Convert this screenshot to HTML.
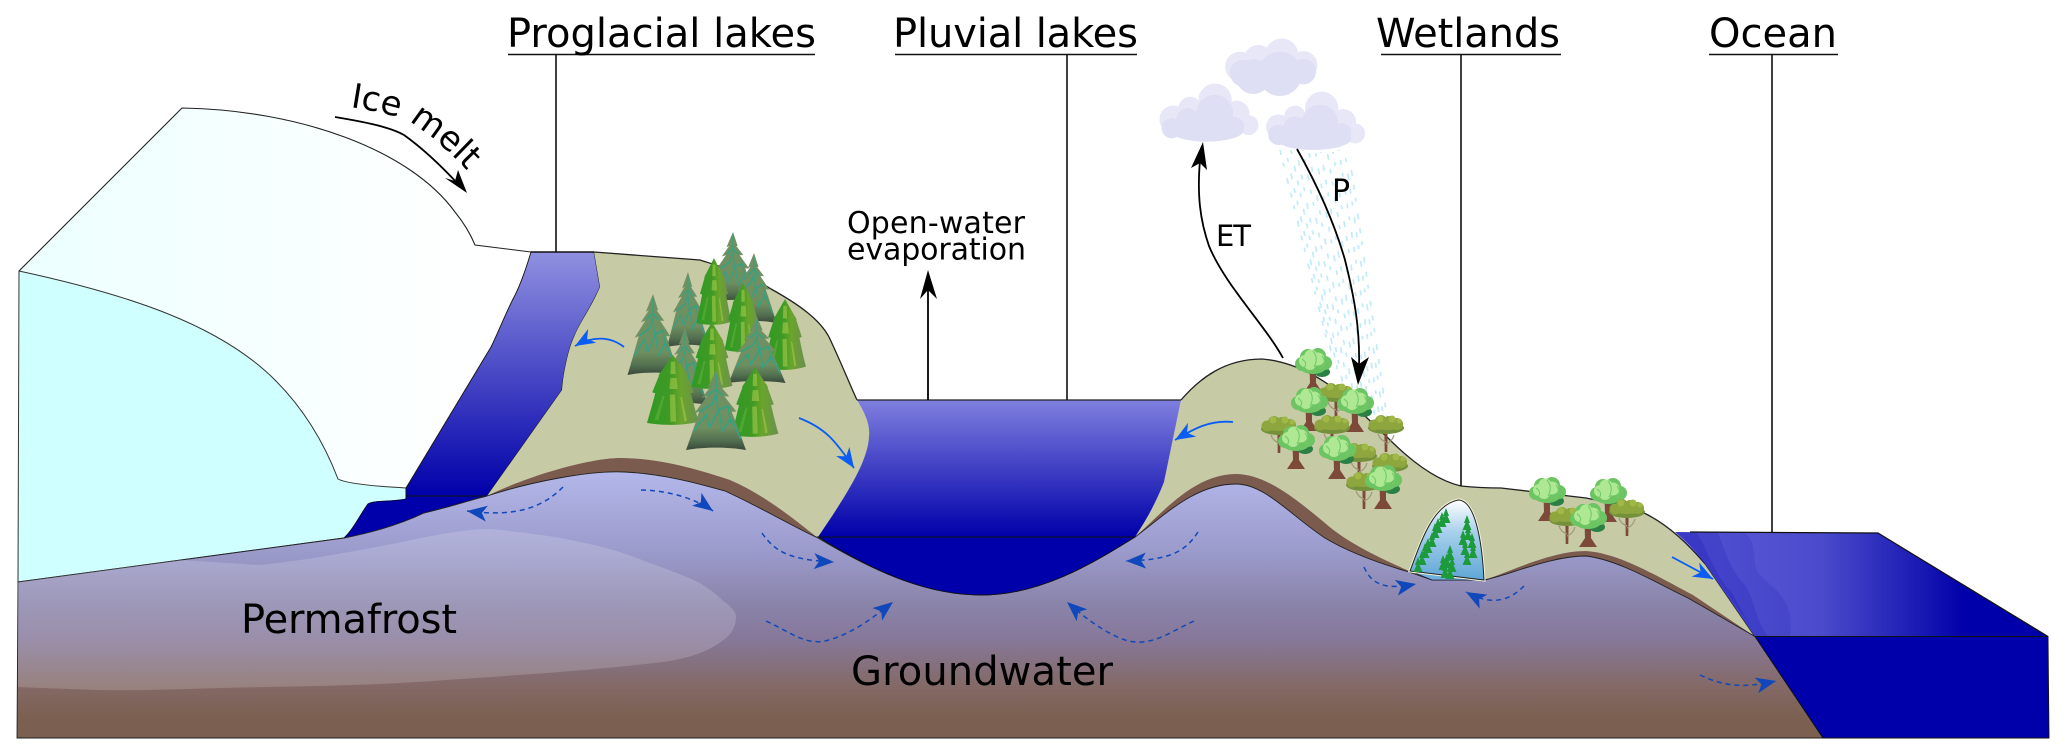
<!DOCTYPE html>
<html><head><meta charset="utf-8"><title>Lakes and wetlands diagram</title>
<style>html,body{margin:0;padding:0;background:#fff}svg{display:block}text{font-family:"DejaVu Sans","Liberation Sans",sans-serif;fill:#000}</style></head>
<body>
<svg width="2067" height="756" viewBox="0 0 2067 756" xmlns="http://www.w3.org/2000/svg">
<defs>
<linearGradient id="grd" gradientUnits="userSpaceOnUse" x1="0" y1="470" x2="0" y2="738">
<stop offset="0" stop-color="#b4b8ea"/><stop offset=".3" stop-color="#9b9bcc"/><stop offset=".5" stop-color="#8a84aa"/><stop offset=".63" stop-color="#86789a"/><stop offset=".8" stop-color="#846a68"/><stop offset=".93" stop-color="#7b5f50"/><stop offset="1" stop-color="#7b5f50"/></linearGradient>
<linearGradient id="lk1" gradientUnits="userSpaceOnUse" x1="0" y1="252" x2="0" y2="496"><stop offset="0" stop-color="#9090e0"/><stop offset="1" stop-color="#0000aa"/></linearGradient>
<linearGradient id="lk2" gradientUnits="userSpaceOnUse" x1="0" y1="400" x2="0" y2="537"><stop offset="0" stop-color="#7f7fdf"/><stop offset="1" stop-color="#0000aa"/></linearGradient>
<linearGradient id="oc" gradientUnits="userSpaceOnUse" x1="1680" y1="0" x2="1965" y2="0"><stop offset="0" stop-color="#5c5cd8"/><stop offset=".5" stop-color="#4a4acc"/><stop offset=".8" stop-color="#2020b6"/><stop offset="1" stop-color="#0000aa"/></linearGradient>
<linearGradient id="ice" gradientUnits="userSpaceOnUse" x1="60" y1="0" x2="480" y2="0"><stop offset="0" stop-color="#eeffff"/><stop offset="1" stop-color="#ffffff"/></linearGradient>
<linearGradient id="arch" x1="0" y1="0" x2="0" y2="1"><stop offset="0" stop-color="#fff"/><stop offset=".4" stop-color="#a8d0ec"/><stop offset="1" stop-color="#5fa7d6"/></linearGradient>
<linearGradient id="ca" gradientUnits="userSpaceOnUse" x1="0" y1="0" x2="0" y2="100"><stop offset="0" stop-color="#6f9163"/><stop offset=".72" stop-color="#6f8f60"/><stop offset=".88" stop-color="#527050"/><stop offset="1" stop-color="#38483a"/></linearGradient>
<linearGradient id="cb" gradientUnits="userSpaceOnUse" x1="-50" y1="0" x2="50" y2="0"><stop offset="0" stop-color="#2f9a22"/><stop offset=".45" stop-color="#3f9a25"/><stop offset=".65" stop-color="#6aa52b"/><stop offset="1" stop-color="#6a8f50"/></linearGradient>
<pattern id="st" width="3" height="3" patternUnits="userSpaceOnUse"><rect width="3" height="3" fill="#eeeefa"/><rect width="1.5" height="1.5" fill="#d2d2ee"/></pattern>
<marker id="mb" markerUnits="userSpaceOnUse" markerWidth="26" markerHeight="20" refX="20" refY="8" orient="auto"><path d="M20,8 L0,0 L6,8 L0,16Z" fill="#0a5cf5"/></marker>
<marker id="md" markerUnits="userSpaceOnUse" markerWidth="26" markerHeight="20" refX="20" refY="8" orient="auto"><path d="M20,8 L0,0 L5,8 L0,16Z" fill="#1048bb"/></marker>
<g id="a">
<path d="M0,0 L10,20 L7,20 L22,33 L14,33 L34,52 L26,52 C36,70 44,88 50,100 C20,96 -20,96 -50,100 C-44,88 -36,70 -28,52 L-36,54 L-15,33 L-24,35 L-8,20 L-14,22Z" fill="url(#ca)"/>
<path d="M0,5 L0,25 M-13,31 L0,24 L11,32 M-27,52 L-6,42 L0,30 L3,50 L20,45 L26,70 M-37,76 L-16,56 L-11,72 L5,50 L10,76 L25,60 L41,86" fill="none" stroke="#35a184" stroke-width="2.4"/>
</g>
<g id="b">
<path d="M-50,100 C-40,74 -36,62 -32,50 L32,50 C38,66 44,86 50,98 C20,104 -20,104 -50,100Z" fill="url(#cb)"/>
<path d="M-40,55 L-24,25 L24,25 L40,55 C14,61 -14,61 -40,55Z" fill="url(#cb)"/>
<path d="M-28,30 L0,0 L28,30 C8,35 -8,35 -28,30Z" fill="url(#cb)"/>
<path d="M-4,10 L4,10 L5,28 L-5,28Z M-5,34 L7,34 L9,50 L-7,50Z M-6,58 L4,58 L6,98 L-5,98Z M14,62 L17,62 L27,96 L22,98Z" fill="#a2c94a" opacity=".6"/>
<path d="M-20,60 L-16,60 L-28,96 L-36,96Z" fill="#5fb03a" opacity=".6"/>
</g>
<g id="g">
<path d="M-3.5,-24 L3,-24 L3,-9 L9,0 L-9,0 L-3,-9Z" fill="#7d4a3a"/>
<ellipse cx="9" cy="-20" rx="8" ry="5" fill="#2c7f45"/>
<g fill="#6cc462"><circle cx="-11" cy="-28" r="7"/><circle cx="-5" cy="-35" r="8"/><circle cx="5" cy="-36" r="8"/><circle cx="12" cy="-29" r="7"/><ellipse cx="0" cy="-26" rx="14" ry="8"/></g>
<g fill="#aee892"><circle cx="-8" cy="-31" r="6"/><circle cx="-2" cy="-36" r="6.5"/><circle cx="5" cy="-33" r="6.5"/><circle cx="-3" cy="-28" r="6"/></g>
<path d="M-11,-33 Q-5,-29 -9,-24 M0,-41 Q6,-34 1,-25 M9,-36 Q14,-30 9,-24" fill="none" stroke="#74cb6b" stroke-width="1.1"/>
</g>
<g id="o">
<path d="M-1.3,0 L1.3,0 L1.6,-22 L-1.6,-22Z" fill="#7d4a3a"/>
<path d="M0,-10 Q-6,-12 -8,-18 M0,-8 Q6,-10 8,-17" stroke="#a0987a" stroke-width="1.2" fill="none"/>
<ellipse cx="0" cy="-24" rx="18" ry="6" fill="#74903a"/>
<g fill="#8da63d"><circle cx="-12" cy="-27" r="5.5"/><circle cx="-5" cy="-31" r="6"/><circle cx="3" cy="-30" r="6"/><circle cx="11" cy="-28" r="6"/><ellipse cx="0" cy="-27" rx="17" ry="5"/></g>
<g fill="#a0b848"><circle cx="-6" cy="-33" r="3.5"/><circle cx="6" cy="-33" r="3.5"/><circle cx="13" cy="-31" r="2.5"/></g>
</g>
<path id="s" d="M0,0 L3,8 L1.5,8 L4.5,15 L-4.5,15 L-1.5,8 L-3,8Z" fill="#1d9a3c"/>
</defs>

<!-- rain -->
<g fill="none" stroke="#c2ebfa" stroke-width="1.7" stroke-dasharray="5 8 4 12 6 9">
<path d="M1280,150 L1328,345" stroke-dashoffset="0"/>
<path d="M1286,152 L1333,360" stroke-dashoffset="7"/>
<path d="M1291,150 L1338,372" stroke-dashoffset="13"/>
<path d="M1297,153 L1343,385" stroke-dashoffset="22"/>
<path d="M1303,150 L1349,392" stroke-dashoffset="4"/>
<path d="M1309,153 L1354,397" stroke-dashoffset="30"/>
<path d="M1315,150 L1360,402" stroke-dashoffset="10"/>
<path d="M1321,152 L1365,408" stroke-dashoffset="16"/>
<path d="M1327,150 L1370,412" stroke-dashoffset="25"/>
<path d="M1333,152 L1375,417" stroke-dashoffset="3"/>
<path d="M1339,150 L1380,420" stroke-dashoffset="34"/>
<path d="M1345,154 L1384,422" stroke-dashoffset="9"/>
<path d="M1350,160 L1388,425" stroke-dashoffset="19"/>
</g>

<!-- glacier top -->
<path d="M19,271 L182,108 C300,110 410,150 455,212 Q468,228 475,245 L531,252 C525,272 518,290 513,299 L406,488 L406,582 L19,582Z" fill="url(#ice)"/>
<path d="M19,271 L182,108 C300,110 410,150 455,212 Q468,228 475,245 L531,252" fill="none" stroke="#222" stroke-width="1.1"/>
<!-- ice face -->
<path d="M19,271 C130,295 220,325 275,380 C305,410 325,445 338,479 C345,483 370,486 406,488 L406,499 C395,502 375,500 368,504 C360,515 353,530 344,538 L18,582Z" fill="#d0ffff" stroke="#333" stroke-width="1"/>

<!-- proglacial lake -->
<path d="M406,496 L487,496 L424,513 C405,522 380,531 344,538 C353,530 360,515 368,504 C375,500 395,502 406,499Z" fill="#0000aa" stroke="#000040" stroke-width=".8"/>
<path d="M531,252 L594,252 L600,287 C590,310 580,322 574,337 C568,350 563,375 562,390 L487,496 L406,496 L406,488 L491,347 C497,335 505,315 513,299 C518,290 525,272 531,252Z" fill="url(#lk1)" stroke="#111" stroke-width=".9"/>
<path d="M531,252 L594,252" stroke="#111" stroke-width="1.4"/>

<!-- green land left -->
<path d="M594,252 L700,260 C725,268 750,275 771,289 C800,305 820,320 829,337 C840,360 850,385 857,400 C866,415 870,425 869,436 C868,460 850,490 818,538 C795,520 765,495 730,480 C700,470 660,458 620,458 C590,458 530,475 487,496 L562,390 C563,375 568,350 574,337 C580,322 590,310 600,287Z" fill="#c6caa5"/>
<path d="M594,252 L700,260 C725,268 750,275 771,289 C800,305 820,320 829,337 C840,360 850,385 857,400" fill="none" stroke="#222" stroke-width="1.3"/>

<!-- green land right -->
<path d="M1181,400 C1200,378 1225,359 1262,359 C1300,362 1330,385 1343,395 L1389,439 C1410,460 1435,480 1461,486 C1480,488 1490,488 1501,488 L1586,498 C1610,503 1630,507 1644,513 C1665,523 1685,540 1706,565 L1755,636.5 L1693,595 C1660,578 1620,553 1586,551 C1550,551 1510,572 1484,580 L1432,580 L1409,571 C1385,560 1350,545 1325,523 C1295,498 1265,474 1236,474 C1195,474 1165,510 1135,537 C1145,522 1155,505 1164,482Z" fill="#c6caa5"/>
<path d="M1181,400 C1200,378 1225,359 1262,359 C1300,362 1330,385 1343,395 L1389,439 C1410,460 1435,480 1461,486 C1480,488 1490,488 1501,488 L1586,498 C1610,503 1630,507 1644,513 C1665,523 1685,540 1706,565 L1755,636.5" fill="none" stroke="#222" stroke-width="1.3"/>

<!-- soil -->
<path d="M487,496 C530,475 590,458 620,458 C660,458 700,470 730,480 C765,495 795,520 818,538 L818,610 L487,610Z" fill="#7b5b4d"/>
<path d="M1135,537 C1165,510 1195,474 1236,474 C1265,474 1295,498 1325,523 C1350,545 1385,560 1409,571 L1409,620 L1135,620Z" fill="#7b5b4d"/>
<path d="M1484,580 C1510,572 1550,551 1586,551 C1620,553 1660,578 1693,595 L1755,636.5 L1755,660 L1484,660Z" fill="#7b5b4d"/>

<!-- ground -->
<path d="M18,582 L344,538 C380,531 405,522 424,513 C450,507 470,500 487,496 C530,482 590,470 625,472 C665,474 700,484 725,491 C760,507 790,525 818,538 C880,575 930,595 981,595 C1040,595 1090,565 1135,537 C1165,515 1195,484 1236,484 C1265,484 1290,515 1325,538 C1350,553 1385,565 1409,572 L1432,580 L1484,580 C1510,575 1550,556 1586,556 C1620,560 1660,585 1688,598 L1755,636.5 L1823,738 L17,738Z" fill="url(#grd)" stroke="#222" stroke-width=".9"/>

<!-- permafrost -->
<path d="M18,582 L180,560 L259,565 C310,560 360,550 402,542 C435,535 465,529 491,529 C520,532 555,536 580,542 C610,548 630,555 647,562 C670,570 690,578 700,583 C710,590 718,595 722,600 C732,607 736,612 736,617 C736,628 730,636 722,641 C715,646 708,650 700,653 C690,657 680,659 670,661 C600,670 520,675 446,680 C380,685 320,686 268,687 C200,688 150,691 98,690 C70,689 40,688 18,687Z" fill="#fff" fill-opacity=".17"/>

<!-- pluvial lake -->
<path d="M857,400 L1181,400 L1164,482 C1155,505 1145,522 1135,537 L818,537 C850,490 868,460 869,436 C870,425 866,415 857,400Z" fill="url(#lk2)"/>
<path d="M857,400 L1181,400" stroke="#222" stroke-width="1.2"/>
<path d="M818,537 L1135,537 C1090,565 1040,595 981,595 C930,595 880,575 818,537Z" fill="#0000aa" stroke="#111" stroke-width=".9"/>

<!-- wetland -->
<path d="M1410,571 L1432,580 L1484,580Z" fill="#6fb0dc" stroke="#223" stroke-width=".7"/>
<path d="M1410,571 C1420,545 1432,505 1458,500 C1475,500 1482,540 1484,580 L1410,571Z" fill="url(#arch)" stroke="#f4f4d8" stroke-width="3"/>
<path d="M1410,571 C1420,545 1432,505 1458,500 C1475,500 1482,540 1484,580 L1410,571Z" fill="url(#arch)" stroke="#222" stroke-width="1"/>
<g>
<use href="#s" x="1446" y="508"/><use href="#s" x="1442" y="512"/><use href="#s" x="1438" y="518"/><use href="#s" x="1435" y="523"/>
<use href="#s" x="1432" y="532"/><use href="#s" x="1428" y="538"/><use href="#s" x="1425" y="543"/><use href="#s" x="1422" y="550"/><use href="#s" x="1418" y="557"/>
<use href="#s" x="1467" y="515"/><use href="#s" x="1468" y="525"/><use href="#s" x="1463" y="530"/><use href="#s" x="1472" y="533"/><use href="#s" x="1465" y="540"/><use href="#s" x="1473" y="543"/><use href="#s" x="1467" y="550"/>
<use href="#s" x="1450" y="545"/><use href="#s" x="1447" y="553"/><use href="#s" x="1443" y="555"/><use href="#s" x="1452" y="557"/><use href="#s" x="1445" y="563"/><use href="#s" x="1450" y="564"/>
</g>

<!-- ocean -->
<path d="M1675,532 L1878,533 L2048,636.5 L1755,636.5 L1706,565 C1695,550 1685,540 1675,532Z" fill="url(#oc)"/>
<path d="M1745,533 C1760,545 1750,565 1760,575 C1775,590 1795,600 1790,636 L1755,636.5 L1706,565 L1675,532Z" fill="#0000aa" opacity=".1"/>
<path d="M1718,533 C1725,550 1730,570 1745,585 C1755,600 1755,620 1768,636 L1755,636.5 L1706,565 L1675,532Z" fill="#0000aa" opacity=".14"/>
<path d="M1697,533 C1705,545 1715,575 1732,593 L1750,625 L1706,565 L1675,532Z" fill="#0000aa" opacity=".16"/>
<path d="M1690,532 L1878,533 L2048,636.5" fill="none" stroke="#111" stroke-width="1.2"/>
<path d="M1755,636.5 L2048,636.5 L2049,738 L1823,738Z" fill="#0000aa" stroke="#111" stroke-width=".9"/>

<!-- conifers -->
<use href="#a" transform="translate(733,232) scale(.47,.7)"/>
<use href="#a" transform="translate(754,253) scale(.45,.7)"/>
<use href="#a" transform="translate(688,272) scale(.42,.75)"/>
<use href="#b" transform="translate(714,258) scale(.35,.65)"/>
<use href="#a" transform="translate(653,294) scale(.51,.81)"/>
<use href="#b" transform="translate(743,283) scale(.37,.67)"/>
<use href="#b" transform="translate(785,299) scale(.42,.69)"/>
<use href="#a" transform="translate(685,328) scale(.45,.77)"/>
<use href="#a" transform="translate(757,317) scale(.57,.66)"/>
<use href="#b" transform="translate(712,322) scale(.41,.65)"/>
<use href="#b" transform="translate(673,355) scale(.52,.68)"/>
<use href="#b" transform="translate(755,367) scale(.47,.68)"/>
<use href="#a" transform="translate(716,370) scale(.6,.8)"/>

<!-- trees -->
<use href="#g" x="1313" y="392"/>
<use href="#o" x="1336" y="420"/>
<use href="#g" x="1309" y="431"/>
<use href="#g" x="1355" y="432"/>
<use href="#o" x="1279" y="453"/>
<use href="#o" x="1332" y="452"/>
<use href="#o" x="1386" y="452"/>
<use href="#g" x="1296" y="469"/>
<use href="#o" x="1359" y="480"/>
<use href="#o" x="1390" y="490"/>
<use href="#g" x="1337" y="479"/>
<use href="#o" x="1364" y="509"/>
<use href="#g" x="1383" y="509"/>
<use href="#g" x="1547" y="521"/>
<use href="#g" x="1608" y="522"/>
<use href="#o" x="1567" y="544"/>
<use href="#o" x="1627" y="536"/>
<use href="#g" x="1588" y="547"/>

<!-- clouds -->
<g transform="translate(1150,30) scale(.3333)">
<g fill="url(#st)"><circle cx="270" cy="110" r="45"/><circle cx="325" cy="90" r="45"/><circle cx="395" cy="75" r="50"/><circle cx="460" cy="105" r="42"/></g>
<g fill="#dedef5"><circle cx="280" cy="130" r="40"/><circle cx="310" cy="140" r="52"/><circle cx="390" cy="132" r="66"/><circle cx="460" cy="125" r="38"/></g>
<g fill="url(#st)"><circle cx="70" cy="268" r="42"/><circle cx="120" cy="235" r="35"/><circle cx="195" cy="210" r="50"/><circle cx="260" cy="250" r="38"/><circle cx="295" cy="285" r="30"/></g>
<g fill="#dedef5"><circle cx="65" cy="295" r="30"/><circle cx="115" cy="270" r="35"/><circle cx="195" cy="250" r="55"/><circle cx="255" cy="290" r="28"/><ellipse cx="170" cy="302" rx="110" ry="33"/></g>
<g fill="url(#st)"><circle cx="385" cy="290" r="37"/><circle cx="435" cy="260" r="33"/><circle cx="515" cy="235" r="50"/><circle cx="580" cy="275" r="38"/><circle cx="615" cy="310" r="30"/></g>
<g fill="#dedef5"><circle cx="385" cy="315" r="30"/><circle cx="435" cy="295" r="35"/><circle cx="510" cy="280" r="55"/><circle cx="575" cy="310" r="30"/><ellipse cx="490" cy="325" rx="115" ry="35"/></g>
</g>

<!-- leaders -->
<g stroke="#111" stroke-width="1.6" fill="none">
<path d="M556,54 V252 M1067,54 V400 M1461,54 V486 M1772,54 V533"/>
<path d="M508,54.5 H815 M895,54.5 H1137 M1381,54.5 H1561 M1709,54.5 H1838"/>
</g>

<!-- black arrows -->
<g fill="none" stroke="#000" stroke-width="1.8">
<path d="M335,117 C365,122 390,127 404,135 C425,150 445,170 458,184"/>
<path d="M1283,358 C1265,325 1225,285 1209,246 C1200,220 1197,195 1200,160"/>
<path d="M1297,149 C1320,190 1335,225 1345,260 C1355,300 1360,330 1359,368"/>
<path d="M928,400 V288"/>
</g>
<path d="M467,193 L445,178 L455,181 L458,170Z" fill="#000"/>
<path d="M1203,142 L1191,168 L1200,163 L1207,170Z" fill="#000"/>
<path d="M1358,385 L1351,357 L1359,364 L1369,357Z" fill="#000"/>
<path d="M928,270 L920,299 L928,290 L937,299Z" fill="#000"/>

<!-- blue arrows -->
<g fill="none" stroke="#0a5cf5" stroke-width="1.8" marker-end="url(#mb)">
<path d="M624,347 C610,336 592,336 575,346"/>
<path d="M799,418 C825,428 835,440 854,468"/>
<path d="M1233,422 C1210,420 1195,428 1175,440"/>
<path d="M1672,557 L1713,579"/>
</g>
<g fill="none" stroke="#1048bb" stroke-width="1.5" stroke-dasharray="5 4" marker-end="url(#md)">
<path d="M563,487 C545,505 520,518 467,511"/>
<path d="M641,490 C665,490 695,498 713,511"/>
<path d="M762,533 C775,552 790,560 834,562"/>
<path d="M766,621 C790,632 805,645 825,641 C850,635 870,620 893,602"/>
<path d="M1194,621 C1170,632 1150,648 1125,640 C1105,633 1085,618 1067,602"/>
<path d="M1198,532 C1185,552 1170,560 1126,561"/>
<path d="M1364,567 C1372,585 1385,590 1416,584"/>
<path d="M1524,586 C1512,598 1495,608 1466,592"/>
<path d="M1700,675 C1725,687 1745,688 1776,681"/>
</g>

<!-- labels -->
<text x="507" y="47" font-size="40" textLength="309">Proglacial lakes</text>
<text x="893" y="47" font-size="40" textLength="245">Pluvial lakes</text>
<text x="1376" y="47" font-size="40" textLength="184">Wetlands</text>
<text x="1709" y="47" font-size="40" textLength="128">Ocean</text>
<path id="im" d="M350,107 C375,111 395,115 410,122 C430,135 450,150 490,196" fill="none"/>
<text font-size="34"><textPath href="#im">Ice melt</textPath></text>
<text x="847" y="233" font-size="30" textLength="178">Open-water</text>
<text x="847" y="259.5" font-size="30" textLength="179">evaporation</text>
<text x="1216" y="246" font-size="29" textLength="35">ET</text>
<text x="1332" y="201" font-size="30">P</text>
<text x="241" y="633" font-size="40" textLength="216">Permafrost</text>
<text x="851" y="685" font-size="40" textLength="262">Groundwater</text>
</svg>
</body></html>
